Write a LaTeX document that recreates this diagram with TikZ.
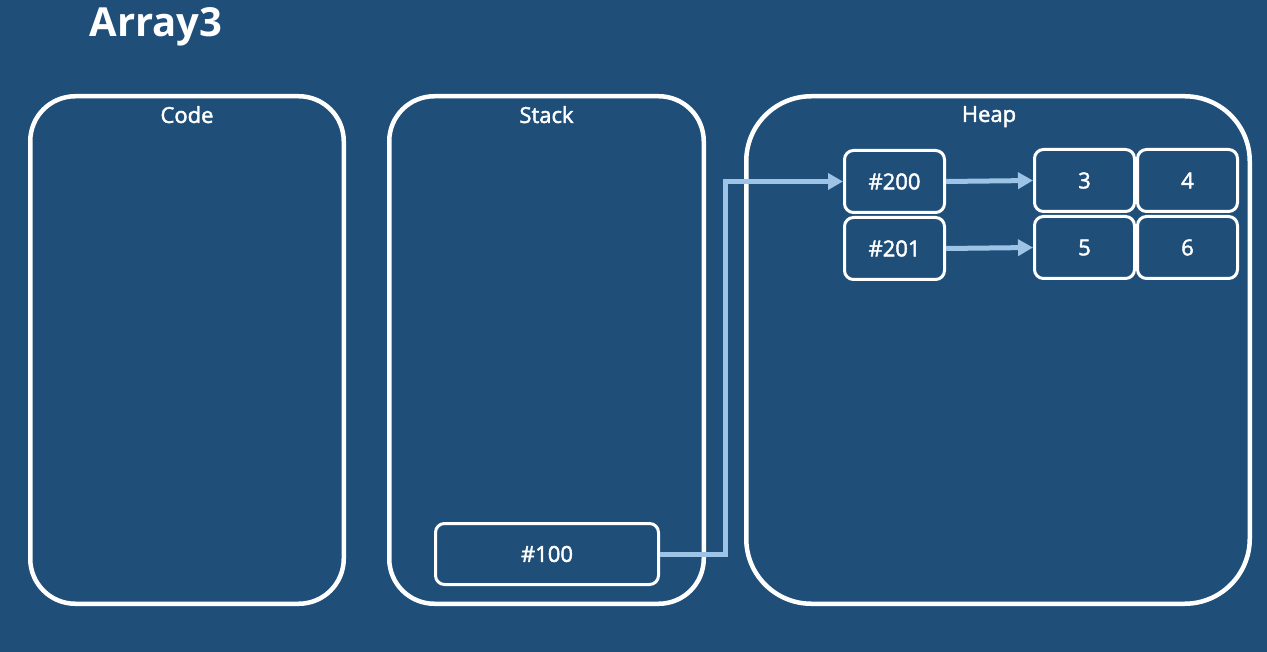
\documentclass[tikz,border=0pt]{standalone}
\usepackage{fontspec}
\setmainfont{Open Sans}
\newfontfamily\semibold[FakeBold=2]{Open Sans}
\usetikzlibrary{positioning,arrows.meta}
\definecolor{slide}{HTML}{1F4E79}
\definecolor{pointer}{HTML}{9DC3E6}
\tikzset{panel/.style={rectangle,draw=white,line width=4.5pt,rounded corners=45pt,
  minimum height=507.5pt,inner sep=0pt}}

\begin{document}
\begin{tikzpicture}
		[
		x=1pt,y=-1pt,
		cell/.style={
		draw=white,
		rectangle,rounded corners=9pt,line width=3pt,
		minimum width=100pt,minimum height=62pt,
		text=white,font=\semibold\fontsize{22}{26}\selectfont},
		heading/.style={text=white,font=\semibold\fontsize{22}{26}\selectfont,inner sep=0pt},
		ptr/.style={draw=pointer,line width=5pt,-{Triangle[length=15pt,width=16pt]}}
		]
		\fill[slide] (0,0) rectangle (1267,652);
		\node[text=white,font=\bfseries\fontsize{40}{46}\selectfont](title) at (156,27) {Array3};
		% memory areas
		\node[panel,minimum width=313.5pt](code) at (187,350) {};
		\node[panel,minimum width=314.5pt](stack) at (546.5,350) {};
		\node[panel,minimum width=503.5pt,rounded corners=65pt](heap) at (998,350) {};
		\node[heading,below=12pt of code.north](code_label) {Code};
		\node[heading,below=12pt of stack.north](stack_label) {Stack};
		\node[heading,below=12pt of heap.north,xshift=-9pt](heap_label) {Heap};
		% values
		\node[cell,minimum width=223pt,minimum height=61pt](ref100) at (547,554) {\#100};
		\node[cell](ref200) at (894.5,181.5) {\#200};
		\node[cell,below=2pt of ref200](ref201) {\#201};
		\node[cell](val3) at (1084.5,180.5) {3};
		\node[cell,right=0pt of val3](val4) {4};
		\node[cell,below=2pt of val3](val5) {5};
		\node[cell,right=0pt of val5](val6) {6};
		% references
		\draw[ptr] (ref100.east) -- ++(65,0) |- (ref200.west);
		\draw[ptr] (ref200.east) -- (val3.west);
		\draw[ptr] (ref201.east) -- (val5.west);
		\end{tikzpicture}
\end{document}
